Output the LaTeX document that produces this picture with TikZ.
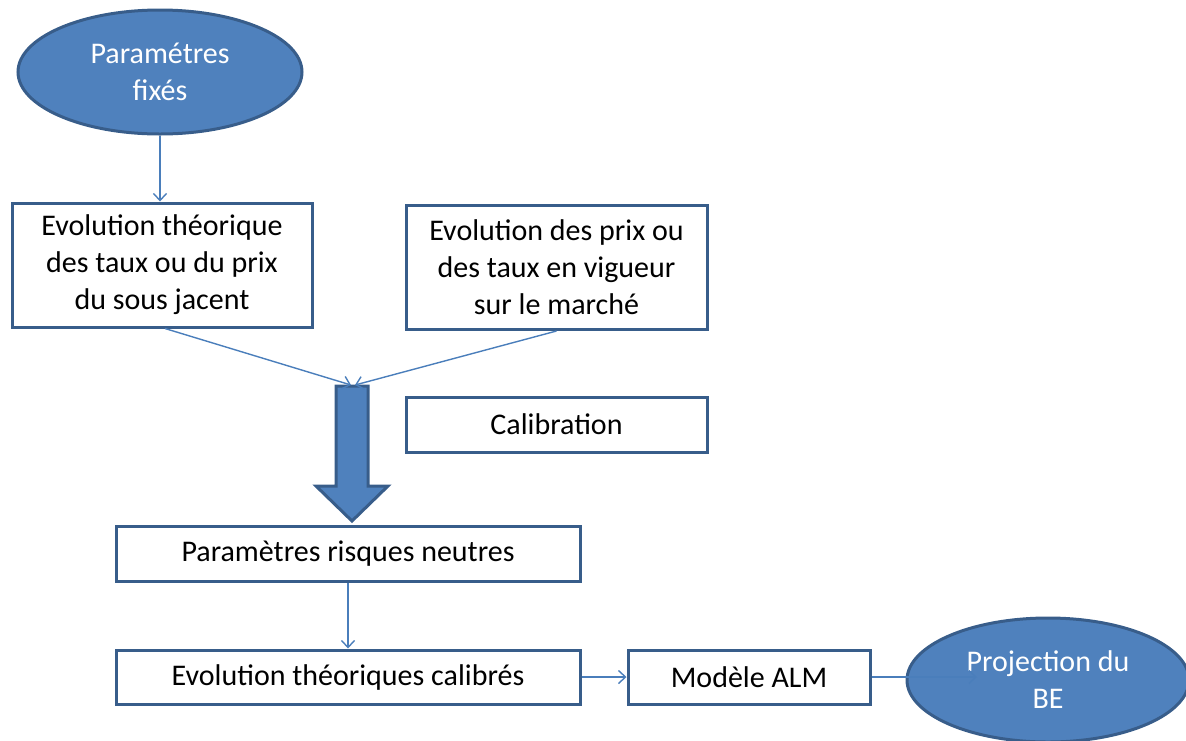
\documentclass[tikz,border=0pt]{standalone}
\usepackage{fontspec}
\setmainfont{Carlito}
\usetikzlibrary{arrows.meta,shapes.geometric}
\definecolor{fillblue}{HTML}{4F81BD}
\definecolor{edgeblue}{HTML}{385D8A}
\definecolor{linkblue}{HTML}{4A7EBB}
\begin{document}
\begin{tikzpicture}[x=1pt,y=-1pt,
  txt/.style={font=\fontsize{30}{37}\selectfont},
  box/.style={txt, draw=edgeblue, line width=3pt, fill=white, inner sep=0pt, align=center},
  oval/.style={txt, ellipse, draw=edgeblue, line width=3pt, fill=fillblue, text=white,
               inner sep=0pt, align=center, minimum width=284pt, minimum height=124pt},
  link/.style={draw=linkblue, line width=1.4pt, -{Straight Barb[length=7pt,width=13pt]}},
  bigarrow/.style={draw=edgeblue, line width=3pt, fill=fillblue, line join=miter}]
\useasboundingbox (0,0) rectangle (1186,740);

% source parameters and the two inputs
\node[oval] (fixes) at (160,72) {Paramétres\\fixés};
\node[box, minimum width=300pt, minimum height=124pt] (theo) at (162,265)
  {Evolution théorique\\des taux ou du prix\\du sous jacent};
\node[box, minimum width=301pt, minimum height=124pt] (marche) at (556.5,267.5)
  {Evolution des prix ou\\des taux en vigueur\\sur le marché};
\node[box, minimum width=301pt, minimum height=55pt] (calib) at (556.5,424.5) {Calibration};

% thick calibration arrow
\draw[bigarrow] (336,386) -- (368,386) -- (368,486) -- (388,486) -- (352,521)
  -- (316,486) -- (336,486) -- cycle;
\coordinate (merge) at (353,385);

% results chain
\node[box, minimum width=464pt, minimum height=55pt] (neutres) at (348,553.5)
  {Paramètres risques neutres};
\node[box, minimum width=464pt, minimum height=54pt] (calibres) at (348,677)
  {Evolution théoriques calibrés};
\node[box, minimum width=242pt, minimum height=54pt] (alm) at (749,677) {Modèle ALM};
\node[oval, minimum width=282pt] (proj) at (1048,680) {Projection du\\BE};
\coordinate (projin) at (977,677);

% connectors
\draw[link] (fixes.south) -- (fixes.south |- theo.north);
\draw[link] ([xshift=3pt]theo.south) -- ([xshift=-2pt]merge);
\draw[link] (marche.south) -- ([xshift=2pt]merge);
\draw[link] (neutres.south) -- (calibres.north);
\draw[link] (calibres.east) -- (alm.west);
\draw[link] (alm.east) -- (projin);
\end{tikzpicture}
\end{document}
